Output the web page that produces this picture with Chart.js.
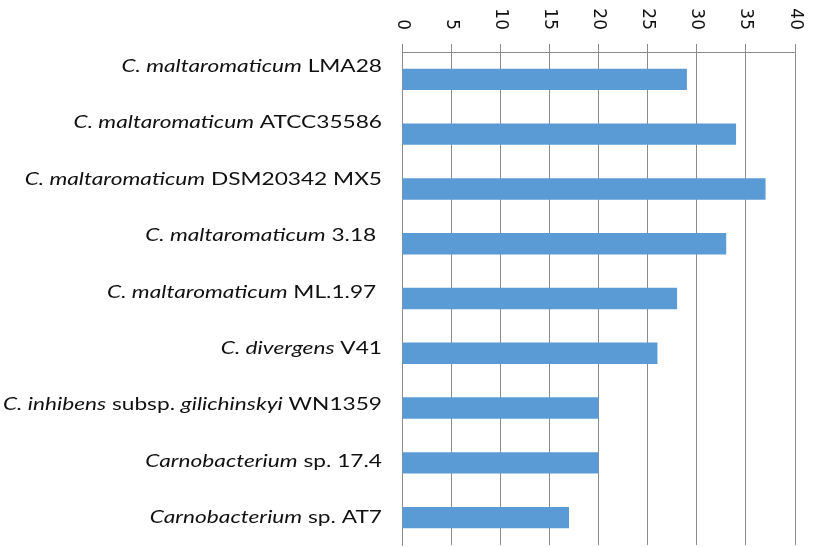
<!DOCTYPE html>
<html>
<head>
<meta charset="utf-8">
<script src="https://cdn.jsdelivr.net/npm/chart.js@4"></script>
<style>
  html, body { margin: 0; padding: 0; background: #fff; }
  #wrap { width: 824px; height: 547px; }
</style>
</head>
<body>
<div id="wrap"><canvas id="strainChart"></canvas></div>
<script>
// strain names, parts between * are set in italics
const categories = [
    "*C. maltaromaticum* LMA28",
    "*C. maltaromaticum* ATCC35586",
    "*C. maltaromaticum* DSM20342 MX5",
    "*C. maltaromaticum* 3.18 ",
    "*C. maltaromaticum* ML.1.97 ",
    "*C. divergens* V41",
    "*C. inhibens* subsp. *gilichinskyi* WN1359",
    "*Carnobacterium* sp. 17.4",
    "*Carnobacterium* sp. AT7"
]
const values = [29, 34, 37, 33, 28, 26, 20, 20, 17]
const xTicks = [0, 5, 10, 15, 20, 25, 30, 35, 40]

const gridColor = "#8c8c8c"
const labelFont = "Lato"
const labelSize = 18
const labelStretch = 1.26   // names are set wide
const tickFont = "17px 'DejaVu Sans'"

// the name column is spaced a little wider than the bars
const labelDrift = 1.7

// draws the mixed italic / roman names and the top axis numbers (read top to bottom)
const labelPlugin = {
    id: "labels",
    afterDraw(chart){
        const ctx = chart.ctx
        const yScale = chart.scales.y
        const xScale = chart.scales.x
        const right = chart.chartArea.left - 20
        const last = categories.length - 1

        ctx.save()
        ctx.fillStyle = "#111"
        ctx.textBaseline = "middle"
        ctx.textAlign = "left"

        categories.forEach((name, i) => {
            const parts = name.split("*")
            const fonts = parts.map((p, k) =>
                (k % 2 ? "italic " : "") + labelSize + "px " + labelFont)
            let width = 0
            parts.forEach((p, k) => {
                ctx.font = fonts[k]
                width += ctx.measureText(p).width
            })
            const y = yScale.getPixelForTick(i) - (last - i) * labelDrift
            ctx.save()
            ctx.translate(right, y)
            ctx.scale(labelStretch, 1)
            let x = -width
            parts.forEach((p, k) => {
                ctx.font = fonts[k]
                ctx.fillText(p, x, 0)
                x += ctx.measureText(p).width
            })
            ctx.restore()
        })

        ctx.font = tickFont
        ctx.textAlign = "right"
        xTicks.forEach(t => {
            const x = xScale.getPixelForValue(t)
            ctx.save()
            ctx.translate(x, 30)
            ctx.rotate(Math.PI / 2)
            ctx.fillText(String(t), 0, 0)
            ctx.restore()
        })
        ctx.restore()
    }
}

new Chart(document.getElementById("strainChart"), {
    type: "bar",
    data: {
        labels: categories,
        datasets: [{
            data: values,
            backgroundColor: "#5b9bd5",
            categoryPercentage: 1,
            barPercentage: 0.39
        }]
    },
    options: {
        indexAxis: "y",
        responsive: true,
        maintainAspectRatio: false,
        animation: false,
        layout: { padding: { left: 0, right: 29, top: 0, bottom: 2 } },
        plugins: {
            legend: { display: false },
            tooltip: { enabled: false }
        },
        scales: {
            x: {
                position: "top",
                min: 0,
                max: 40,
                ticks: { display: false, stepSize: 5 },
                grid: { color: gridColor, lineWidth: 1, tickLength: 8, drawTicks: true },
                border: { display: true, color: gridColor },
                afterFit(scale){ scale.height = 52 }
            },
            y: {
                ticks: { display: false },
                grid: { display: false },
                border: { display: true, color: gridColor },
                afterFit(scale){ scale.width = 402 }
            }
        }
    },
    plugins: [labelPlugin]
})
</script>
</body>
</html>
